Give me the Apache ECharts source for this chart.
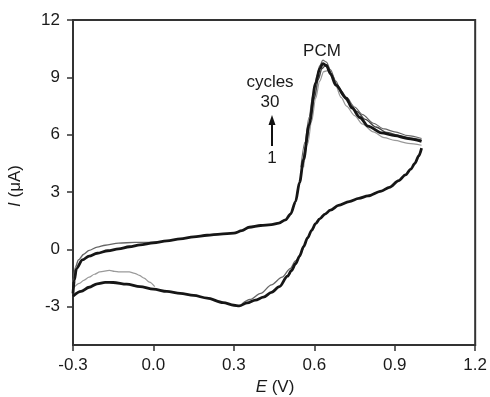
<!DOCTYPE html>
<html><head><meta charset="utf-8">
<script src="https://cdn.jsdelivr.net/npm/echarts@6/dist/echarts.min.js"></script>
<style>html,body{margin:0;padding:0;background:#fff}#c{width:490px;height:397px}</style>
</head><body><div id="c"></div>
<script>
// ---- tick labels ----
const xTicks = [-0.3, 0.0, 0.3, 0.6, 0.9, 1.2];
const yTicks = [-3, 0, 3, 6, 9, 12];

// ---- main cycle, anodic (forward) scan ----
const fwdE = [-0.300,-0.295,-0.287,-0.265,-0.240,-0.210,-0.170,-0.130,-0.090,-0.050,0.000,0.050,0.100,0.150,0.200,0.250,0.300,0.330,0.357,0.400,0.440,0.468,0.493,0.512,0.530,0.545,0.560,0.580,0.605,0.620,0.632,0.645,0.660,0.680,0.720,0.740,0.770,0.800,0.850,0.900,0.950,1.000];
const fwdI = [-2.30,-1.60,-1.00,-0.55,-0.35,-0.20,-0.07,0.03,0.14,0.24,0.34,0.45,0.55,0.66,0.74,0.80,0.85,0.98,1.16,1.25,1.30,1.38,1.55,1.86,2.50,3.50,4.70,6.50,8.70,9.45,9.72,9.62,9.20,8.60,7.90,7.40,6.90,6.45,6.10,5.95,5.80,5.65];

// ---- main cycle, cathodic (reverse) scan ----
const revE = [1.000,0.990,0.975,0.960,0.940,0.915,0.880,0.850,0.800,0.766,0.730,0.690,0.660,0.640,0.620,0.605,0.590,0.575,0.560,0.545,0.530,0.515,0.500,0.470,0.440,0.410,0.380,0.350,0.320,0.300,0.260,0.200,0.150,0.100,0.050,0.000,-0.050,-0.100,-0.150,-0.180,-0.210,-0.240,-0.270,-0.300];
const revI = [5.30,4.90,4.50,4.20,3.90,3.60,3.25,3.05,2.80,2.67,2.50,2.30,2.05,1.85,1.60,1.35,1.00,0.60,0.15,-0.35,-0.75,-1.10,-1.40,-1.95,-2.25,-2.50,-2.65,-2.80,-2.95,-2.92,-2.78,-2.55,-2.40,-2.30,-2.20,-2.08,-1.95,-1.82,-1.73,-1.72,-1.80,-1.98,-2.20,-2.45];

// ---- later cycles, upper peak envelope ----
const peakHighE = [0.550,0.565,0.580,0.595,0.610,0.620,0.632,0.645,0.660,0.680,0.700,0.720,0.750,0.780,0.820,0.860,0.900,0.950,1.000];
const peakHighI = [4.30,5.60,6.90,8.10,9.10,9.60,9.90,9.80,9.40,8.80,8.30,7.95,7.45,7.05,6.60,6.30,6.15,5.95,5.80];

// ---- later cycles, middle peak envelope ----
const peakMidE = [0.555,0.570,0.585,0.600,0.615,0.628,0.640,0.652,0.665,0.685,0.705,0.730,0.760,0.790,0.830,0.870,0.910,0.960,1.000];
const peakMidI = [4.20,5.50,6.80,7.90,8.90,9.45,9.60,9.50,9.15,8.60,8.10,7.65,7.20,6.80,6.40,6.12,5.98,5.82,5.72];

// ---- later cycles, lower peak envelope ----
const peakLowE = [0.560,0.575,0.590,0.605,0.620,0.635,0.650,0.665,0.680,0.700,0.720,0.750,0.780,0.820,0.860,0.900,0.950,1.000];
const peakLowI = [4.30,5.50,6.70,7.90,8.80,9.30,9.35,9.05,8.55,7.95,7.50,7.00,6.55,6.15,5.85,5.70,5.55,5.45];

// ---- later cycles, upper start of forward scan ----
const startUpE = [-0.300,-0.290,-0.280,-0.260,-0.240,-0.210,-0.180,-0.130,-0.070,-0.020,0.020];
const startUpI = [-1.70,-0.90,-0.55,-0.25,-0.05,0.12,0.22,0.33,0.37,0.37,0.40];

// ---- spread of reverse scan near the cathodic wave ----
const revBandE = [0.560,0.530,0.510,0.480,0.440,0.400,0.360,0.330];
const revBandI = [0.10,-0.60,-1.00,-1.45,-1.85,-2.30,-2.62,-2.85];

// ---- first cycle, reverse scan at negative potentials ----
const firstRevE = [0.005,-0.015,-0.035,-0.053,-0.070,-0.090,-0.127,-0.145,-0.164,-0.200,-0.220,-0.240,-0.260,-0.276,-0.300];
const firstRevI = [-1.95,-1.71,-1.50,-1.36,-1.25,-1.18,-1.18,-1.15,-1.10,-1.18,-1.30,-1.45,-1.62,-1.78,-2.05];

function pairs(a, b) { return a.map((v, i) => [v, b[i]]); }
const FONT = "'Liberation Sans', Arial, Helvetica, sans-serif";
const AX = '#333';

function ser(name, E, I, color, width, z) {
  return {
    type: 'line', name: name, data: pairs(E, I), showSymbol: false,
    smooth: 0.3, smoothMonotone: 'x', silent: true, z: z,
    lineStyle: { color: color, width: width }
  };
}

const chart = echarts.init(document.getElementById('c'));
chart.setOption({
  animation: false,
  grid: { left: 73, right: 13, top: 20, bottom: 52, show: true, borderColor: AX, borderWidth: 2, backgroundColor: 'transparent' },
  xAxis: {
    type: 'value', min: -0.3, max: 1.2,
    axisLine: { show: true, onZero: false, lineStyle: { color: AX, width: 2 } },
    axisTick: { show: true, inside: false, length: 6, customValues: xTicks, lineStyle: { color: AX, width: 1.5 } },
    axisLabel: { customValues: xTicks, formatter: v => Number(v).toFixed(1), margin: 12, fontSize: 17, color: '#1a1a1a', fontFamily: FONT },
    splitLine: { show: false }
  },
  yAxis: {
    type: 'value', min: -5, max: 12,
    axisLine: { show: true, onZero: false, lineStyle: { color: AX, width: 2 } },
    axisTick: { show: true, inside: false, length: 6, customValues: yTicks, lineStyle: { color: AX, width: 1.5 } },
    axisLabel: { customValues: yTicks, formatter: v => String(Math.round(v)), margin: 13, fontSize: 17, color: '#1a1a1a', fontFamily: FONT },
    splitLine: { show: false }
  },
  series: [
    ser('first-rev', firstRevE, firstRevI, '#9a9a9a', 1.2, 1),
    ser('start-up', startUpE, startUpI, '#666', 1.4, 2),
    ser('peak-low', peakLowE, peakLowI, '#999', 1.2, 2),
    ser('peak-mid', peakMidE, peakMidI, '#444', 1.4, 2),
    ser('peak-high', peakHighE, peakHighI, '#666', 1.2, 2),
    ser('rev-band', revBandE, revBandI, '#666', 1.3, 2),
    ser('forward', fwdE, fwdI, '#161616', 2.8, 3),
    ser('reverse', revE, revI, '#161616', 2.8, 3)
  ],
  graphic: [
    { type: 'text', x: 322, y: 51, style: { text: 'PCM', fontSize: 17, fontFamily: FONT, fill: '#1a1a1a', textAlign: 'center', textVerticalAlign: 'middle' } },
    { type: 'text', x: 270, y: 82, style: { text: 'cycles', fontSize: 17, fontFamily: FONT, fill: '#1a1a1a', textAlign: 'center', textVerticalAlign: 'middle' } },
    { type: 'text', x: 270, y: 102, style: { text: '30', fontSize: 17, fontFamily: FONT, fill: '#1a1a1a', textAlign: 'center', textVerticalAlign: 'middle' } },
    { type: 'text', x: 272, y: 158, style: { text: '1', fontSize: 17, fontFamily: FONT, fill: '#1a1a1a', textAlign: 'center', textVerticalAlign: 'middle' } },
    { type: 'line', shape: { x1: 272, y1: 146, x2: 272, y2: 122 }, style: { stroke: '#111', lineWidth: 2 } },
    { type: 'polygon', shape: { points: [[272, 115], [268.5, 125], [275.5, 125]] }, style: { fill: '#111' } },
    { type: 'text', x: 15, y: 186, rotation: Math.PI / 2,
      style: { text: '{i|I} (μA)', fontSize: 17, fontFamily: FONT, fill: '#1a1a1a', textAlign: 'center', textVerticalAlign: 'middle',
        rich: { i: { fontStyle: 'italic', fontSize: 17, fontFamily: FONT, fill: '#1a1a1a' } } } },
    { type: 'text', x: 275, y: 387,
      style: { text: '{i|E} (V)', fontSize: 17, fontFamily: FONT, fill: '#1a1a1a', textAlign: 'center', textVerticalAlign: 'middle',
        rich: { i: { fontStyle: 'italic', fontSize: 17, fontFamily: FONT, fill: '#1a1a1a' } } } }
  ]
});
</script>
</body></html>
